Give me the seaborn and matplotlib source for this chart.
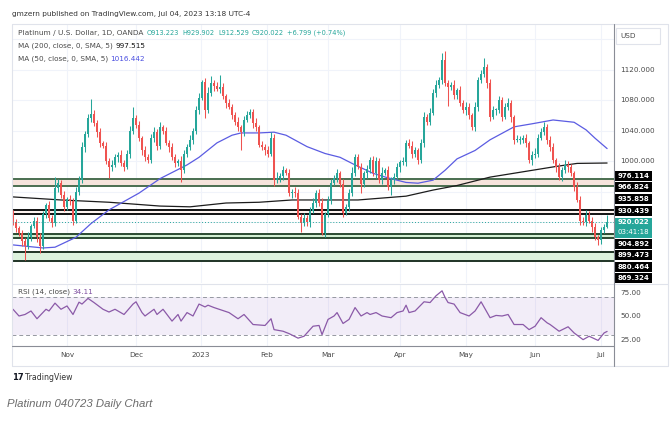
import numpy as np
import pandas as pd
import matplotlib
matplotlib.use("Agg")
import matplotlib.pyplot as plt
import seaborn as sns
from matplotlib.patches import Rectangle
from matplotlib.lines import Line2D

# ---------------- data ----------------
first_open = 930.0
closes = [
    920, 912, 905, 895, 888, 900, 915, 922, 900, 888, 930, 942, 925, 919, 965, 971, 955, 940, 950, 948,
    922, 960, 975, 1018, 1035, 1056, 1062, 1050, 1038, 1024, 1020, 1000, 992, 995, 1005, 1008, 998, 992, 1010, 1040,
    1056, 1048, 1030, 1014, 1005, 1001, 1030, 1038, 1020, 1045, 1040, 1024, 1018, 1005, 997, 1000, 988, 1010, 1018, 1028,
    1040, 1067, 1083, 1104, 1067, 1090, 1102, 1098, 1095, 1097, 1085, 1076, 1071, 1060, 1051, 1045, 1038, 1054, 1060, 1064,
    1050, 1045, 1021, 1018, 1014, 1010, 1031, 975, 978, 980, 988, 985, 958, 960, 958, 927, 919, 925, 920, 935,
    945, 958, 945, 906, 930, 949, 971, 978, 984, 970, 932, 940, 958, 985, 1005, 992, 970, 984, 990, 1001,
    984, 1000, 975, 985, 988, 966, 975, 979, 992, 999, 999, 1024, 1020, 1010, 1014, 1001, 1024, 1058, 1052, 1063,
    1090, 1100, 1106, 1133, 1102, 1097, 1100, 1087, 1093, 1076, 1067, 1071, 1060, 1045, 1071, 1106, 1115, 1123, 1102, 1058,
    1067, 1067, 1080, 1058, 1071, 1076, 1058, 1028, 1028, 1028, 1030, 1024, 1001, 1008, 1010, 1031, 1038, 1045, 1028, 1018,
    1001, 992, 979, 988, 995, 992, 984, 966, 949, 922, 920, 929, 922, 913, 900, 896, 909, 913.223, 920.022,
]
up_wick = [
    6, 4, 3, 5, 4, 7, 3, 5, 4, 6, 5, 3, 6, 4, 14, 5, 4, 6, 3, 5,
    4, 6, 5, 7, 4, 6, 19, 5, 4, 6, 3, 5, 4, 7, 5, 4, 6, 3, 5, 6,
    15, 4, 5, 3, 6, 4, 5, 7, 4, 6, 3, 5, 4, 6, 5, 3, 7, 4, 5, 6,
    4, 5, 6, 2, 5, 7, 10, 4, 6, 16, 5, 3, 6, 4, 5, 7, 3, 5, 6, 4,
    5, 6, 3, 5, 4, 6, 7, 5, 8, 4, 6, 3, 5, 4, 6, 5, 3, 7, 4, 5,
    6, 4, 5, 7, 3, 5, 6, 4, 5, 3, 6, 4, 5, 7, 5, 4, 6, 3, 5, 4,
    6, 5, 4, 7, 3, 5, 4, 6, 5, 3, 7, 4, 5, 6, 4, 3, 5, 6, 4, 7,
    5, 6, 4, 9, 12, 5, 4, 6, 3, 5, 4, 7, 5, 3, 6, 4, 5, 12, 4, 6,
    5, 3, 6, 4, 5, 7, 4, 3, 6, 5, 4, 6, 3, 5, 7, 4, 5, 6, 4, 5,
    6, 3, 5, 4, 7, 5, 4, 3, 6, 5, 4, 7, 5, 4, 6, 3, 5, 4, 9.88,
]
dn_wick = [
    4, 5, 3, 6, 18, 4, 5, 3, 6, 8, 4, 5, 3, 6, 4, 5, 3, 6, 4, 5,
    6, 3, 5, 4, 6, 3, 5, 4, 6, 5, 3, 4, 14, 5, 3, 6, 4, 5, 3, 6,
    4, 5, 3, 6, 5, 4, 3, 5, 6, 4, 5, 3, 6, 4, 5, 3, 16, 4, 5, 3,
    6, 4, 5, 3, 11, 4, 5, 6, 3, 5, 4, 6, 3, 5, 4, 6, 24, 5, 3, 4,
    6, 5, 3, 4, 6, 5, 3, 8, 4, 6, 5, 3, 4, 6, 5, 3, 12, 4, 5, 6,
    3, 5, 4, 3, 6, 4, 5, 3, 6, 4, 5, 3, 6, 4, 5, 3, 12, 4, 6, 5,
    3, 6, 4, 5, 3, 4, 11, 5, 3, 6, 4, 5, 3, 6, 4, 5, 3, 6, 4, 5,
    3, 6, 4, 5, 3, 24, 4, 6, 5, 3, 4, 6, 5, 4, 6, 5, 3, 4, 6, 5,
    3, 6, 4, 5, 3, 4, 6, 5, 3, 6, 4, 5, 3, 6, 4, 5, 3, 4, 6, 5,
    3, 6, 4, 5, 3, 6, 4, 5, 3, 6, 4, 5, 3, 6, 4, 6, 5, 3, 0.7,
]
ma50_idx = [0, 10, 14, 21, 26, 32, 42, 49, 58, 62, 68, 73, 76, 82, 87, 91, 98, 104, 109, 114,
            120, 125, 131, 135, 140, 144, 148, 154, 159, 167, 173, 180, 187, 191, 194, 198]
ma50_val = [890, 886, 887, 900, 918, 936, 958, 977, 995, 1005, 1024, 1034, 1037, 1037, 1038, 1034, 1019, 1010, 1005, 995,
            984, 978, 972, 971, 975, 988, 1003, 1014, 1028, 1045, 1049, 1054, 1051, 1041, 1030, 1016.442]
ma200_idx = [0, 16, 32, 49, 59, 71, 82, 93, 115, 131, 140, 148, 159, 170, 181, 188, 198]
ma200_val = [953, 949, 946, 941, 940, 945, 946, 949, 949, 954, 962, 968, 979, 986, 993, 997, 997.515]
rsi_idx = [0, 2, 4, 6, 8, 11, 12, 14, 16, 18, 20, 22, 23, 25, 27, 30, 32, 34, 37, 40,
           41, 43, 44, 47, 48, 50, 53, 55, 56, 58, 60, 62, 64, 65, 67, 72, 75, 77, 80, 84,
           86, 87, 90, 92, 95, 97, 100, 102, 103, 105, 107, 108, 110, 112, 114, 116, 118, 119, 121, 123,
           126, 128, 130, 131, 132, 134, 137, 139, 141, 143, 144, 145, 147, 149, 152, 154, 156, 159, 161, 163,
           165, 167, 170, 172, 174, 176, 178, 179, 182, 185, 187, 190, 192, 195, 197, 198]
rsi_val = [57.5, 50.4, 52, 55.7, 47.5, 57.5, 55.7, 64, 57.5, 61, 52, 65, 63, 69, 64.6, 57.5, 54.6, 57.5, 52, 63,
           65.4, 54, 50.4, 57.5, 52, 57.5, 45, 52, 45, 54, 50.4, 63, 60, 61.8, 59.3, 54, 47.5, 52, 41.4, 40.4,
           47.5, 36, 34.3, 31.8, 27, 29, 39.6, 40.4, 30.7, 46.8, 50.4, 54, 42.5, 46.8, 59.3, 50.4, 54, 52, 54, 50.4,
           48.6, 54, 55.7, 61.8, 54, 55.7, 65.4, 64.6, 71.8, 77, 70, 64.6, 63, 54, 50.4, 55.7, 65.4, 48.6, 51, 50.4,
           52, 41.4, 41.4, 36, 39.6, 48.6, 43.2, 41.4, 34.3, 39, 32.5, 25.4, 29, 24.6, 32.5, 34.11]
month_labels = ["Nov", "Dec", "2023", "Feb", "Mar", "Apr", "May", "Jun", "Jul"]
month_pos = [18, 41, 62.5, 84.7, 105, 129, 151, 174, 196]
zone_hi = [976.114, 935.858, 904.892, 880.464]
zone_lo = [966.824, 930.439, 899.473, 869.324]
last_price = 920.022
price_ticks = [1000, 1040, 1080, 1120]
rsi_ticks = [25, 50, 75]

# ---------------- derived table ----------------
opens = [first_open] + closes[:-1]
df = pd.DataFrame({"o": opens, "c": closes, "uw": up_wick, "dw": dn_wick})
df["i"] = np.arange(len(df))
df["h"] = df[["o", "c"]].max(axis=1) + df["uw"]
df["l"] = df[["o", "c"]].min(axis=1) - df["dw"]
df["up"] = df["c"] >= df["o"]

# ---------------- style ----------------
sns.set_style("white")
plt.rcParams["font.family"] = ["DejaVu Sans"]

W, H = 672, 421
fig = plt.figure(figsize=(W / 100, H / 100), dpi=100)
fig.patch.set_facecolor("white")

def fx(x):
    return x / W

def fy(y):
    return 1 - y / H

UP, DN = "#26a69a", "#ef5350"
GRID = "#f0f3fa"
TXT = "#4a4a4a"

ax_p = fig.add_axes([fx(12), fy(283), (614 - 12) / W, (283 - 24) / H])
ax_r = fig.add_axes([fx(12), fy(346), (614 - 12) / W, (346 - 284) / H])
for ax in (ax_p, ax_r):
    ax.set_xlim(-0.33, 200.3)
    for s in ax.spines.values():
        s.set_visible(False)
    ax.set_xticks([])
    ax.set_yticks([])
    ax.set_facecolor("none")
    for p in month_pos:
        ax.axvline(p, color=GRID, lw=0.8, zorder=0)
ax_p.set_ylim(840, 1180)
ax_r.set_ylim(18.7, 84.2)
for yv in range(880, 1180, 40):
    ax_p.axhline(yv, color=GRID, lw=0.8, zorder=0)

# zones
zone_fill = ["#f6e4dc", "#fdf3ef", "#d2efd2", "#ddf2dd"]
zone_edge = ["#4a6e50", "#111111", "#2b4a31", "#1f3325"]
for hi, lo, fc, ec in zip(zone_hi, zone_lo, zone_fill, zone_edge):
    ax_p.axhspan(lo, hi, color=fc, lw=0, zorder=1)
    ax_p.axhline(hi, color=ec, lw=1.4, zorder=2)
    ax_p.axhline(lo, color=ec, lw=1.4, zorder=2)

# moving averages
sns.lineplot(x=ma200_idx, y=ma200_val, ax=ax_p, color="#1c1c1c", lw=0.9, zorder=3, legend=False)
sns.lineplot(x=ma50_idx, y=ma50_val, ax=ax_p, color="#5b5ce2", lw=0.9, zorder=3, legend=False)

# candles
cols = np.where(df["up"], UP, DN)
ax_p.vlines(df["i"], df["l"], df["h"], colors=cols, lw=0.75, zorder=4)
body = (df["c"] - df["o"]).abs().clip(lower=0.8)
ax_p.bar(df["i"], body, bottom=df[["o", "c"]].min(axis=1), width=0.82, color=cols, lw=0, zorder=5)
ax_p.axhline(last_price, color=UP, lw=0.7, ls=(0, (1, 2)), zorder=6)
ax_p.set_xlabel("")
ax_p.set_ylabel("")

# RSI
ax_r.axhspan(30, 70, color="#9c6fc9", alpha=0.12, lw=0, zorder=1)
ax_r.axhline(70, color="#9598a1", lw=0.7, ls=(0, (4, 3)), zorder=2)
ax_r.axhline(30, color="#9598a1", lw=0.7, ls=(0, (4, 3)), zorder=2)
sns.lineplot(x=rsi_idx, y=rsi_val, ax=ax_r, color="#8b5aa8", lw=0.9, zorder=3, legend=False)
ax_r.set_xlabel("")
ax_r.set_ylabel("")

# ---------------- frame / separators ----------------
def fline(x0, y0, x1, y1, color, lw=0.8):
    fig.add_artist(Line2D([fx(x0), fx(x1)], [fy(y0), fy(y1)], color=color, lw=lw, transform=fig.transFigure))

fline(12, 24, 668, 24, "#e0e3eb")
fline(12, 366, 668, 366, "#e0e3eb")
fline(12, 24, 12, 366, "#e0e3eb")
fline(668, 24, 668, 366, "#e0e3eb")
fline(12, 283.5, 668, 283.5, "#e0e3eb")
fline(614, 24, 614, 366, "#8a8d96")
fline(12, 346, 614, 346, "#8a8d96")

# ---------------- texts ----------------
FS = 5.2
renderer = fig.canvas.get_renderer()

def run(x, y, parts, size=FS, gap=2.5):
    for s, c in parts:
        t = fig.text(fx(x), fy(y), s, color=c, fontsize=size, va="center", ha="left")
        bb = t.get_window_extent(renderer)
        x = bb.x1 + gap

run(12, 14, [("gmzern published on TradingView.com, Jul 04, 2023 13:18 UTC-4", "#333333")], size=5.3)
run(18, 33, [("Platinum / U.S. Dollar, 1D, OANDA", TXT)], size=5.3)
run(147, 33, [("O913.223", UP), ("H929.902", UP), ("L912.529", UP), ("C920.022", UP), ("+6.799 (+0.74%)", UP)],
    size=4.8, gap=3.2)
run(18, 46, [("MA (200, close, 0, SMA, 5)", TXT), ("997.515", "#111111")])
run(18, 59, [("MA (50, close, 0, SMA, 5)", TXT), ("1016.442", "#4a4ee0")])
run(18, 292, [("RSI (14, close)", TXT), ("34.11", "#7e4fa0")])

# price scale labels
for v in price_ticks:
    ypx = 24 + (1180 - v) / (1180 - 840) * (283 - 24)
    fig.text(fx(620), fy(ypx), f"{v:.3f}", fontsize=FS, color=TXT, va="center", ha="left")
for v in rsi_ticks:
    ypx = 284 + (84.2 - v) / (84.2 - 18.7) * (346 - 284)
    fig.text(fx(620), fy(ypx), f"{v:.2f}", fontsize=FS, color=TXT, va="center", ha="left")
for lab, p in zip(month_labels, month_pos):
    xpx = 12 + (p + 0.33) / 200.63 * (614 - 12)
    fig.text(fx(xpx), fy(355), lab, fontsize=FS, color=TXT, va="center", ha="center")

# level labels (black boxes), stacked like the reference
level_vals = [zone_hi[0], zone_lo[0], zone_hi[1], zone_lo[1], zone_hi[2], zone_lo[2], zone_hi[3], zone_lo[3]]
label_y = [175.7, 186.7, 199, 211, 243.7, 255, 267.3, 277.5]
for v, ypx in zip(level_vals, label_y):
    fig.add_artist(Rectangle((fx(614), fy(ypx + 5)), 38 / W, 10 / H, transform=fig.transFigure,
                             fc="#000000", ec="none"))
    fig.text(fx(618), fy(ypx), f"{v:.3f}", fontsize=5.0, color="white", fontweight="bold",
             va="center", ha="left")
fig.add_artist(Rectangle((fx(614), fy(237.7)), 38 / W, 20 / H, transform=fig.transFigure, fc=UP, ec="none"))
fig.text(fx(618), fy(222.5), f"{last_price:.3f}", fontsize=5.0, color="white", fontweight="bold", va="center")
fig.text(fx(618), fy(232.5), "03:41:18", fontsize=5.0, color="white", va="center")

# USD box
fig.add_artist(Rectangle((fx(616), fy(44)), 44 / W, 16 / H, transform=fig.transFigure,
                         fc="white", ec="#e0e3eb", lw=0.8))
fig.text(fx(620), fy(35.5), "USD", fontsize=FS, color=TXT, va="center")

# footer
fig.text(fx(12), fy(378), "17", fontsize=6, color="#131722", fontweight="heavy", va="center")
fig.text(fx(25), fy(378), "TradingView", fontsize=5.6, color="#333333", va="center")
fig.text(fx(7), fy(404), "Platinum 040723 Daily Chart", fontsize=8.2, color="#6b6b6b",
         style="italic", family=["Liberation Sans", "DejaVu Sans"], va="center")

fig.savefig("out.png", dpi=100)
